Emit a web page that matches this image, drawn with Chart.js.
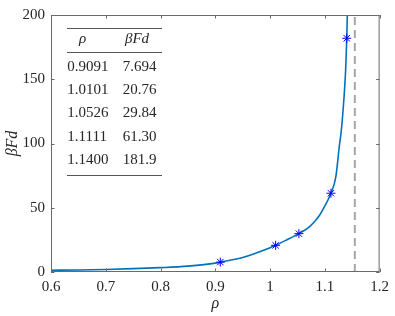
<!DOCTYPE html>
<html>
<head>
<meta charset="utf-8">
<script src="https://cdn.jsdelivr.net/npm/chart.js@4"></script>
<style>
html,body{margin:0;padding:0;background:#fff;}
#wrap{width:395px;height:316px;}
</style>
</head>
<body>
<div id="wrap"><canvas id="c" width="395" height="316"></canvas></div>
<script>
// Marker / table data
const markerRho = [0.9091, 1.0101, 1.0526, 1.1111, 1.1400];
const markerBFd = [7.694, 20.76, 29.84, 61.30, 181.9];
// Curve
const curveRho = [0.6, 0.65, 0.7, 0.75, 0.8, 0.85, 0.9, 0.9091, 0.95, 1.0, 1.0101, 1.03, 1.0526, 1.07, 1.0817, 1.09, 1.1, 1.1111, 1.12, 1.1267, 1.13, 1.135, 1.138, 1.14, 1.1413];
const curveBFd = [1.4, 1.6, 2.0, 2.6, 3.4, 4.6, 6.9, 7.694, 11.3, 18.9, 20.76, 24.9, 29.84, 34.5, 39.5, 44, 51.5, 61.30, 74, 98.9, 110, 136, 158, 181.9, 205];
// Asymptote
const asymRho = 1.1547;
const xTicks = [0.6, 0.7, 0.8, 0.9, 1.0, 1.1, 1.2];
const yTicks = [0, 50, 100, 150, 200];

const SERIF = "'Liberation Serif', 'Times New Roman', serif";
const TXT = '#262626';
const AX = '#6a6a6a';

const boxPlugin = {
  id: 'box',
  afterDraw(chart) {
    const {ctx, chartArea: a, scales} = chart;
    ctx.save();
    ctx.strokeStyle = AX;
    ctx.lineWidth = 1;
    ctx.strokeRect(a.left + 0.5, a.top + 0.5, a.right - a.left - 1, a.bottom - a.top - 1);
    const tl = 3.5;
    ctx.beginPath();
    xTicks.forEach(v => {
      const px = Math.round(scales.x.getPixelForValue(v)) + 0.5;
      ctx.moveTo(px, a.bottom); ctx.lineTo(px, a.bottom - tl);
      ctx.moveTo(px, a.top); ctx.lineTo(px, a.top + tl);
    });
    yTicks.forEach(v => {
      const py = Math.round(scales.y.getPixelForValue(v)) + 0.5;
      ctx.moveTo(a.left, py); ctx.lineTo(a.left + tl, py);
      ctx.moveTo(a.right, py); ctx.lineTo(a.right - tl, py);
    });
    ctx.stroke();

    // Inset table
    const x0 = a.left + 16, x1 = a.left + 111;
    const c1 = a.left + 16.3, c2 = a.left + 71.7;
    ctx.strokeStyle = '#555';
    ctx.lineWidth = 1;
    const rules = [a.top + 13, a.top + 36.7, a.top + 160];
    ctx.beginPath();
    rules.forEach(r => { const yy = Math.round(r) + 0.5; ctx.moveTo(x0, yy); ctx.lineTo(x1, yy); });
    ctx.stroke();
    ctx.fillStyle = TXT;
    ctx.textBaseline = 'middle';
    ctx.font = 'italic 15px ' + SERIF;
    ctx.textAlign = 'center';
    ctx.fillText('ρ', a.left + 31.5, a.top + 24.5);
    ctx.fillText('βFd', a.left + 86, a.top + 24.5);
    ctx.font = '15px ' + SERIF;
    ctx.textAlign = 'left';
    const rowY = [52, 75.2, 98.4, 121.6, 145.3];
    markerRho.forEach((r, i) => {
      ctx.fillText(r.toFixed(4), c1, a.top + rowY[i]);
      ctx.fillText(markerBFd[i].toPrecision(4), c2, a.top + rowY[i]);
    });
    ctx.restore();
  }
};

new Chart(document.getElementById('c'), {
  type: 'scatter',
  data: {
    datasets: [
      {
        label: 'markers',
        data: markerRho.map((x, i) => ({x, y: markerBFd[i]})),
        showLine: false,
        pointStyle: 'star',
        pointRadius: 4.5,
        pointBorderColor: '#0000ff',
        pointBackgroundColor: '#0000ff',
        pointBorderWidth: 1,
        order: 0
      },
      {
        label: 'curve',
        data: curveRho.map((x, i) => ({x, y: curveBFd[i]})),
        showLine: true,
        borderColor: '#0072BD',
        borderWidth: 1.6,
        pointRadius: 0,
        cubicInterpolationMode: 'monotone',
        order: 1
      },
      {
        label: 'asymptote',
        data: [{x: asymRho, y: 0}, {x: asymRho, y: 200}],
        showLine: true,
        borderColor: '#a6a6a6',
        borderWidth: 2,
        borderDash: [8, 5],
        pointRadius: 0,
        order: 2
      }
    ]
  },
  options: {
    responsive: false,
    animation: false,
    events: [],
    layout: {padding: {top: 5, right: 11, left: 0, bottom: 0}},
    plugins: {legend: {display: false}, tooltip: {enabled: false}},
    scales: {
      x: {
        type: 'linear', min: 0.6, max: 1.2,
        afterBuildTicks: s => { s.ticks = xTicks.map(v => ({value: v})); },
        afterFit: s => { s.height = 44; },
        grid: {display: false, drawTicks: false},
        border: {display: false},
        ticks: {color: TXT, font: {family: SERIF, size: 15}, padding: 6, maxRotation: 0,
                callback: v => String(+v.toFixed(1))},
        title: {display: true, text: 'ρ', color: TXT, font: {family: SERIF, size: 16, style: 'italic'}, padding: {top: 0, bottom: 3}}
      },
      y: {
        type: 'linear', min: 0, max: 200,
        afterBuildTicks: s => { s.ticks = yTicks.map(v => ({value: v})); },
        afterFit: s => { s.width = 51; },
        grid: {display: false, drawTicks: false},
        border: {display: false},
        ticks: {color: TXT, font: {family: SERIF, size: 15}, padding: 6},
        title: {display: true, text: 'βFd', color: TXT, font: {family: SERIF, size: 16, style: 'italic'}, padding: {top: 3, bottom: 0}}
      }
    }
  },
  plugins: [boxPlugin]
});
</script>
</body>
</html>
